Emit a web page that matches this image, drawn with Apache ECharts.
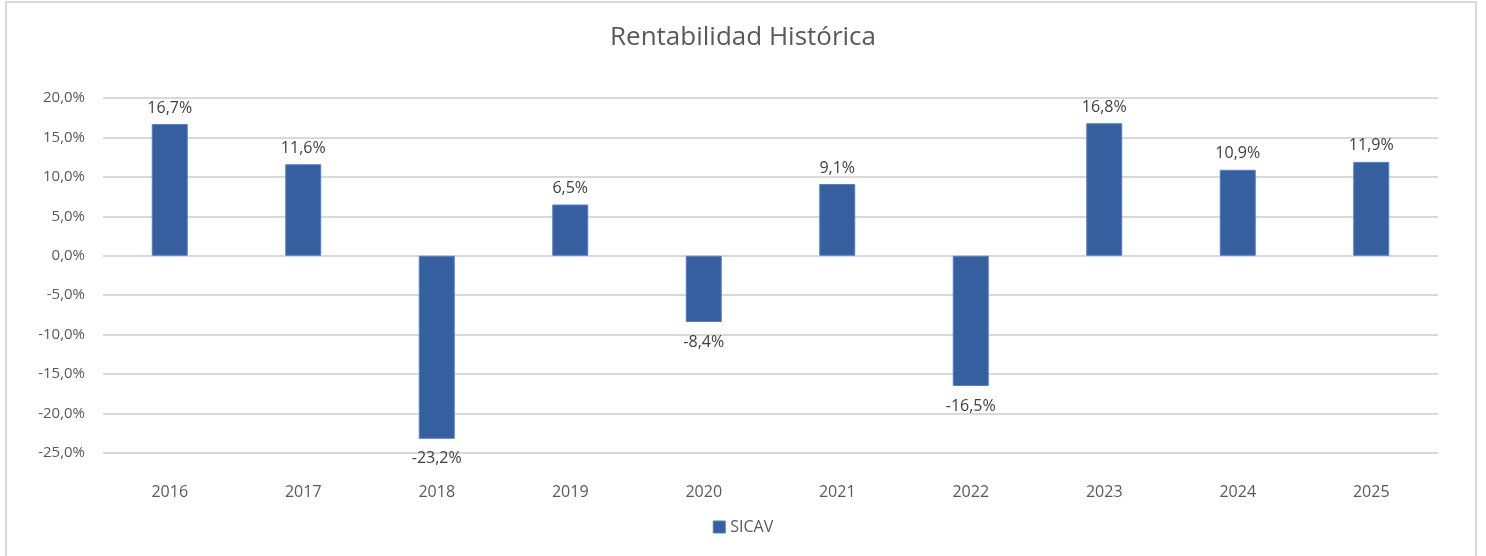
<!DOCTYPE html>
<html>
<head>
<meta charset="utf-8">
<script src="https://cdn.jsdelivr.net/npm/echarts@6/dist/echarts.min.js"></script>
<style>
  html, body { margin: 0; padding: 0; background: #fff; }
  #chart { width: 1486px; height: 556px; }
  #frame { position: absolute; left: 5px; top: 1px; width: 1472px; height: 560px; border: 2px solid #d9d9d9; box-sizing: border-box; pointer-events: none; }
</style>
</head>
<body>
<div id="chart"></div>
<div id="frame"></div>
<script>
const years = ['2016', '2017', '2018', '2019', '2020', '2021', '2022', '2023', '2024', '2025']
const sicav = [16.7, 11.6, -23.2, 6.5, -8.4, 9.1, -16.5, 16.8, 10.9, 11.9]

const fmt = (v) => v.toFixed(1).replace('.', ',') + '%'
const font = "'Open Sans', 'Noto Sans', sans-serif"

const chart = echarts.init(document.querySelector('#chart'))
chart.setOption({
  animation: false,
  textStyle: { fontFamily: font },
  title: {
    text: 'Rentabilidad Histórica',
    left: 'center',
    top: 20,
    textStyle: { fontSize: 26, fontWeight: 'normal', color: '#595959', fontFamily: font },
  },
  grid: { left: 103, right: 48, top: 98, bottom: 103, containLabel: false },
  legend: {
    bottom: 16,
    left: 'center',
    icon: 'rect',
    itemWidth: 12,
    itemHeight: 12,
    itemGap: 4,
    itemStyle: { borderColor: '#4f7fcf', borderWidth: 1 },
    textStyle: { fontSize: 16, color: '#595959', fontFamily: font },
    data: ['SICAV'],
  },
  xAxis: {
    type: 'category',
    data: years,
    position: 'bottom',
    axisLine: { show: false },
    axisTick: { show: false },
    axisLabel: { color: '#595959', fontSize: 16, margin: 31, fontFamily: font },
  },
  yAxis: {
    type: 'value',
    min: -25,
    max: 20,
    interval: 5,
    axisLine: { show: false },
    axisTick: { show: false },
    axisLabel: { color: '#595959', fontSize: 15, margin: 18, formatter: fmt, fontFamily: font },
    splitLine: { lineStyle: { color: '#d9d9d9', width: 2 } },
  },
  series: [
    {
      name: 'SICAV',
      type: 'bar',
      barWidth: 36,
      data: sicav.map((v) => ({
        value: v,
        label: v >= 0 ? { position: 'top', distance: 8 } : { position: 'bottom', distance: 12 },
      })),
      itemStyle: { color: '#365f9f', borderColor: '#4f7fcf', borderWidth: 1 },
      label: {
        show: true,
        color: '#404040',
        fontSize: 16,
        fontFamily: font,
        formatter: (p) => fmt(p.value),
      },
    },
  ],
})
</script>
</body>
</html>
